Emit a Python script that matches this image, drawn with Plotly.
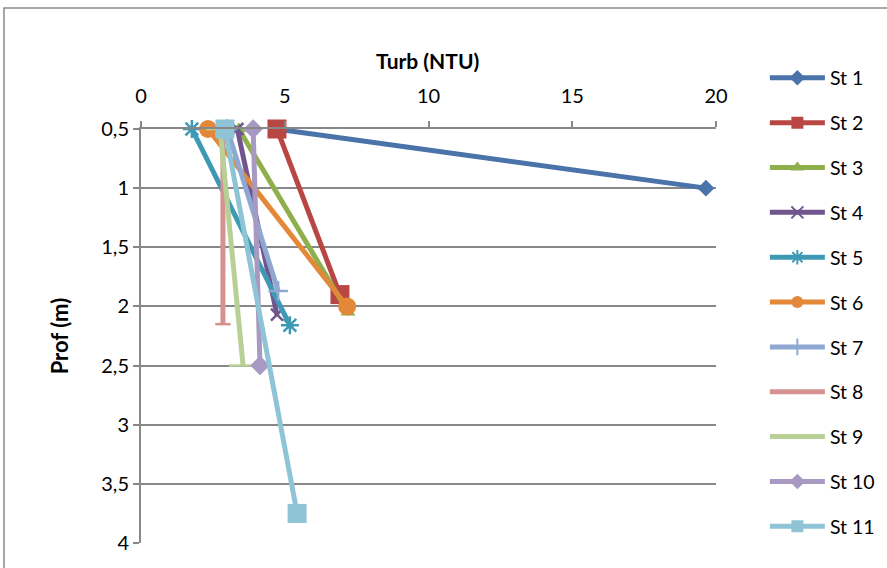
import plotly.graph_objects as go

# Turbidity profiles (NTU) versus depth (m) for each station
stations = ["St 1", "St 2", "St 3", "St 4", "St 5", "St 6",
            "St 7", "St 8", "St 9", "St 10", "St 11"]

st1_turb, st1_depth = [4.7, 19.65], [0.5, 1.0]
st2_turb, st2_depth = [4.73, 6.92], [0.5, 1.9]
st3_turb, st3_depth = [3.4, 7.2], [0.5, 2.05]
st4_turb, st4_depth = [3.35, 4.73], [0.5, 2.07]
st5_turb, st5_depth = [1.77, 5.18], [0.5, 2.16]
st6_turb, st6_depth = [2.33, 7.17], [0.5, 2.0]
st7_turb, st7_depth = [3.0, 4.77], [0.5, 1.87]
st8_turb, st8_depth = [2.85, 2.85], [0.5, 2.15]
st9_turb, st9_depth = [2.75, 3.55], [0.5, 2.5]
st10_turb, st10_depth = [3.9, 4.14], [0.5, 2.5]
st11_turb, st11_depth = [2.92, 5.43], [0.5, 3.75]

turb = [st1_turb, st2_turb, st3_turb, st4_turb, st5_turb, st6_turb,
        st7_turb, st8_turb, st9_turb, st10_turb, st11_turb]
depth = [st1_depth, st2_depth, st3_depth, st4_depth, st5_depth, st6_depth,
         st7_depth, st8_depth, st9_depth, st10_depth, st11_depth]

colors = ["#4A73AA", "#B84744", "#8EAF4C", "#71558F", "#3E9AB4", "#E38838",
          "#8FA8D2", "#D49291", "#B8D095", "#A899C2", "#8EC4D6"]
symbols = ["diamond", "square", "triangle-up", "x-thin", "asterisk-open", "circle",
           "cross-thin", "line-ew", "line-ew", "diamond", "square"]
sizes = [13, 19, 13, 12, 15, 18, 14, 11, 20, 15, 19]

fig = go.Figure()
for name, x, y, c, s, sz in zip(stations, turb, depth, colors, symbols, sizes):
    thin = s in ("x-thin", "asterisk-open", "cross-thin", "line-ew")
    fig.add_trace(go.Scatter(
        x=x, y=y, name=name, mode="lines+markers",
        line=dict(color=c, width=5),
        marker=dict(symbol=s, size=sz, color=c,
                    line=dict(color=c, width=2.5 if thin else 0)),
        cliponaxis=False, legendgroup=name,
    ))

axis_gray = "#878787"
fig.update_layout(
    width=887, height=568,
    margin=dict(l=141, r=171, t=129, b=25, autoexpand=False),
    paper_bgcolor="white", plot_bgcolor="white",
    separators=", ",
    font=dict(family="Lato", size=20, color="black"),
    showlegend=True,
    legend=dict(x=1.085, y=1.17, xanchor="left", yanchor="top",
                font=dict(size=19.5), itemwidth=55, itemsizing="constant",
                tracegroupgap=16.5, maxheight=1.0, bgcolor="rgba(0,0,0,0)"),
    xaxis=dict(side="top", range=[0, 20], tick0=0, dtick=5,
               showline=True, linecolor=axis_gray, linewidth=2,
               ticks="outside", ticklen=6, tickwidth=2, tickcolor=axis_gray,
               showgrid=False, zeroline=False, ticklabelstandoff=10),
    yaxis=dict(range=[4, 0.5], tick0=0.5, dtick=0.5,
               showline=True, linecolor=axis_gray, linewidth=2,
               ticks="outside", ticklen=6, tickwidth=2, tickcolor=axis_gray,
               showgrid=True, gridcolor=axis_gray, gridwidth=1.5,
               zeroline=False),
    annotations=[
        dict(text="<b>Turb (NTU)</b>", xref="paper", yref="paper",
             x=0.498, y=1.165, xanchor="center", yanchor="middle",
             showarrow=False, font=dict(size=21)),
        dict(text="<b>Prof (m)</b>", xref="paper", yref="paper",
             x=-0.142, y=0.5, xanchor="center", yanchor="middle",
             textangle=-90, showarrow=False, font=dict(size=22)),
    ],
    shapes=[dict(type="rect", xref="paper", yref="paper",
                 x0=-0.2383, y0=-0.08, x1=1.4, y1=1.2923,
                 line=dict(color="#8A8A8A", width=1.5), layer="below")],
)

fig.write_html("out.html")
